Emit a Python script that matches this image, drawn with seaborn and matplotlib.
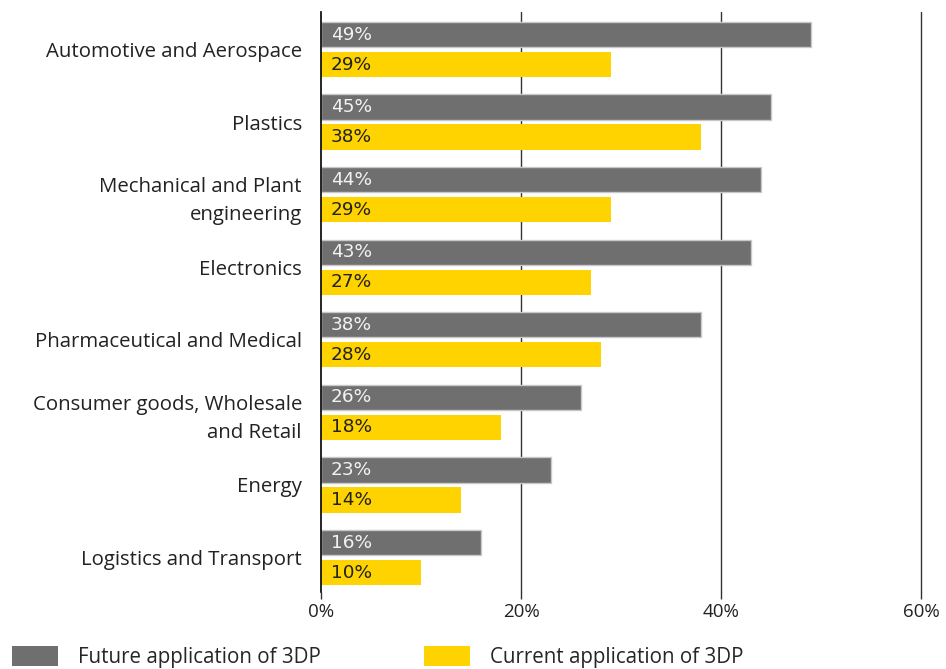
import matplotlib
matplotlib.use("Agg")
import matplotlib.pyplot as plt
import seaborn as sns
import pandas as pd
from matplotlib.patches import Patch

sectors = [
    "Automotive and Aerospace",
    "Plastics",
    "Mechanical and Plant\nengineering",
    "Electronics",
    "Pharmaceutical and Medical",
    "Consumer goods, Wholesale\nand Retail",
    "Energy",
    "Logistics and Transport",
]
future = [49, 45, 44, 43, 38, 26, 23, 16]
current = [29, 38, 29, 27, 28, 18, 14, 10]
series_names = ["Future application of 3DP", "Current application of 3DP"]
x_ticks = [0, 20, 40, 60]
x_tick_labels = ["0%", "20%", "40%", "60%"]

GREY = "#706f6f"
YELLOW = "#ffd300"

df = pd.DataFrame({
    "sector": sectors * 2,
    "share": future + current,
    "series": [series_names[0]] * len(sectors) + [series_names[1]] * len(sectors),
})

sns.set_theme(style="white")
plt.rcParams["font.family"] = ["Open Sans", "DejaVu Sans"]

fig = plt.figure(figsize=(9.46, 6.69), dpi=100)
ax = fig.add_axes([321 / 946, 1 - 592 / 669, 600 / 946, 580 / 669])

sns.barplot(
    data=df, y="sector", x="share", hue="series", order=sectors,
    hue_order=series_names, palette=[GREY, YELLOW], orient="h",
    width=0.827, gap=0.16, legend=False, ax=ax, saturation=1,
)

# grey bars get a thin light outline; value labels sit inside at the bar start
for container, col in zip(ax.containers, ["#f2f2f2", "#222222"]):
    for patch, val in zip(container, container.datavalues):
        if col != "#222222":
            patch.set_edgecolor("#c8c8c8")
            patch.set_linewidth(1.0)
        else:
            patch.set_linewidth(0)
        ax.text(1.0, patch.get_y() + patch.get_height() / 2, f"{int(val)}%",
                ha="left", va="center", color=col, fontsize=13.3,
                family="DejaVu Sans")

ax.set_xlim(0, 60)
ax.set_ylim(7.475, -0.517)
ax.set_xticks(x_ticks)
ax.set_xticklabels(x_tick_labels, fontsize=13.5, color="#222222")
ax.tick_params(axis="x", bottom=True, length=5, width=1, color="#333333", pad=3)
ax.tick_params(axis="y", length=0, pad=13.7, labelsize=14.7, labelcolor="#222222")
for lbl in ax.get_yticklabels():
    lbl.set_horizontalalignment("right")
    lbl.set_linespacing(1.55)
ax.set_xlabel("")
ax.set_ylabel("")

for s in ["top", "right", "bottom"]:
    ax.spines[s].set_visible(False)
ax.spines["left"].set_color("black")
ax.spines["left"].set_linewidth(1.2)
for t in x_ticks[1:]:
    ax.axvline(t, color="#333333", lw=1.0, zorder=0, clip_on=False)

handles = [Patch(facecolor=GREY, edgecolor="none"), Patch(facecolor=YELLOW, edgecolor="none")]
fig.legend(handles, series_names, loc="center left", bbox_to_anchor=(12 / 946, 1 - 657 / 669),
           ncol=2, frameon=False, handlelength=2.23, handleheight=1.15, handletextpad=0.97,
           columnspacing=5.05, borderpad=0, borderaxespad=0, prop={"size": 14.8})

fig.savefig("out.png", dpi=100)
